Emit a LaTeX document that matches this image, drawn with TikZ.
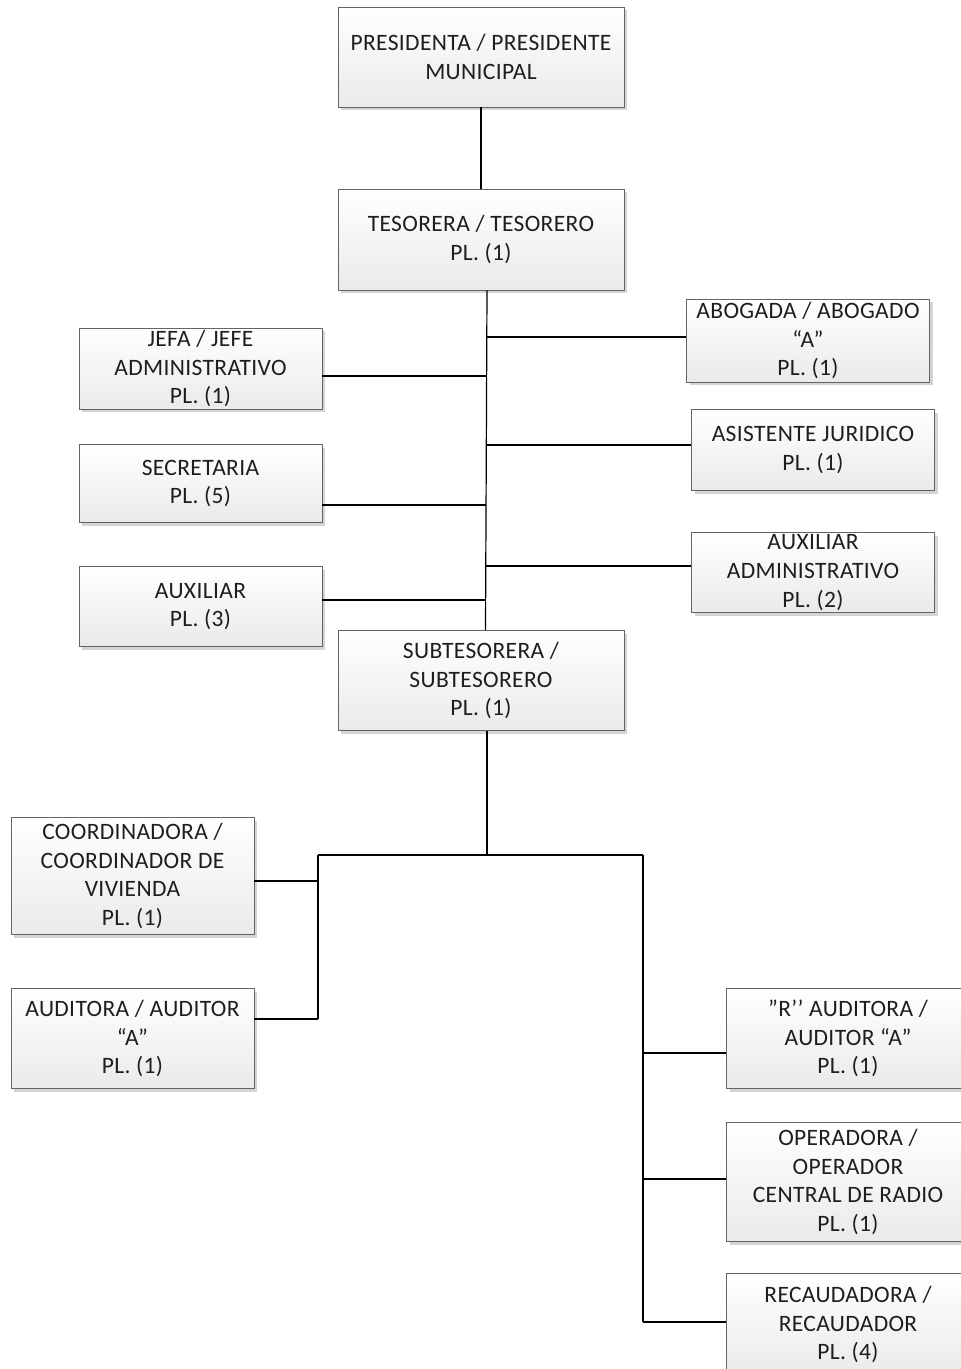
\documentclass[tikz,border=0pt]{standalone}
\usepackage{fontspec}
\setmainfont[LetterSpace=1.5]{Carlito}
\usetikzlibrary{shadows}
\definecolor{boxline}{RGB}{100,100,100}
\definecolor{boxbottom}{RGB}{234,234,234}
\definecolor{boxshadow}{RGB}{212,212,212}
\definecolor{ink}{RGB}{30,30,30}
\begin{document}
\begin{tikzpicture}[x=1pt,y=-1pt,
  orgbox/.style={draw=boxline, line width=0.9pt, top color=white, bottom color=boxbottom,
    align=center, inner sep=0pt, text=ink, font=\fontsize{23.5}{28.7}\selectfont,
    drop shadow={shadow xshift=3pt, shadow yshift=-3pt, fill=boxshadow, opacity=1}},
  wide/.style={minimum width=286pt},
  narrow/.style={minimum width=243pt},
  link/.style={draw=black, line width=1.2pt}]
\useasboundingbox (0,0) rectangle (961,1369);

% top of the chart
\node[orgbox, wide, minimum height=100pt] (pres) at (481,57) {PRESIDENTA / PRESIDENTE\\MUNICIPAL};
\node[orgbox, wide, minimum height=101pt] (tes) at (481,239.5) {TESORERA / TESORERO\\PL. (1)};

% staff reporting to the treasurer
\node[orgbox, narrow, minimum height=81pt] (jefa) at (200.5,368.5) {JEFA / JEFE\\ADMINISTRATIVO\\PL. (1)};
\node[orgbox, narrow, minimum height=78pt] (sec) at (200.5,483.5) {SECRETARIA\\PL. (5)};
\node[orgbox, narrow, minimum height=80pt] (aux) at (200.5,606.5) {AUXILIAR\\PL. (3)};
\node[orgbox, narrow, minimum height=83pt] (abog) at (808,340.5) {ABOGADA / ABOGADO\\“A”\\PL. (1)};
\node[orgbox, narrow, minimum height=81pt] (asis) at (813,450) {ASISTENTE JURIDICO\\PL. (1)};
\node[orgbox, narrow, minimum height=80pt] (auxadm) at (813,572.5) {AUXILIAR\\ADMINISTRATIVO\\PL. (2)};

\node[orgbox, wide, minimum height=100pt] (sub) at (481,680.5) {SUBTESORERA /\\SUBTESORERO\\PL. (1)};

% units under the deputy treasurer
\node[orgbox, narrow, minimum height=117pt] (coord) at (132.5,876) {COORDINADORA /\\COORDINADOR DE\\VIVIENDA\\PL. (1)};
\node[orgbox, narrow, minimum height=100pt] (audit) at (132.5,1038.5) {AUDITORA / AUDITOR\\“A”\\PL. (1)};
\node[orgbox, narrow, minimum height=100pt] (raud) at (848,1038.5) {”R’’ AUDITORA /\\AUDITOR “A”\\PL. (1)};
\node[orgbox, narrow, minimum height=119pt] (oper) at (848,1182) {OPERADORA /\\OPERADOR\\CENTRAL DE RADIO\\PL. (1)};
\node[orgbox, narrow, minimum height=102pt] (recau) at (848,1324.5) {RECAUDADORA /\\RECAUDADOR\\PL. (4)};

% trunk coordinates
\coordinate (tA) at (486.5,337);
\coordinate (tJ) at (486.5,376);
\coordinate (tS) at (486,445);
\coordinate (tSe) at (486,505);
\coordinate (tX) at (485.5,566);
\coordinate (tU) at (485.5,600);
\coordinate (hub) at (487,855);
\coordinate (hl) at (318,855);
\coordinate (hr) at (643,855);
\coordinate (lC) at (318,881);
\coordinate (lA) at (318,1019);
\coordinate (rR) at (643,1053);
\coordinate (rO) at (643,1179);
\coordinate (rC) at (643,1322);

% connectors
\draw[link] (pres.south) -- (tes.north);
\draw[link] ([xshift=6pt]tes.south) -- ([xshift=4.5pt]sub.north);
\draw[link] (abog.west |- tA) -- (tA);
\draw[link] (jefa.east |- tJ) -- (tJ);
\draw[link] (asis.west |- tS) -- (tS);
\draw[link] (sec.east |- tSe) -- (tSe);
\draw[link] (auxadm.west |- tX) -- (tX);
\draw[link] (aux.east |- tU) -- (tU);

\draw[link] ([xshift=6pt]sub.south) -- (hub);
\draw[link] (hl) -- (hr);
\draw[link] (hl) -- (lA);
\draw[link] (coord.east |- lC) -- (lC);
\draw[link] (audit.east |- lA) -- (lA);
\draw[link] (hr) -- (rC);
\draw[link] (raud.west |- rR) -- (rR);
\draw[link] (oper.west |- rO) -- (rO);
\draw[link] (recau.west |- rC) -- (rC);
\end{tikzpicture}
\end{document}
